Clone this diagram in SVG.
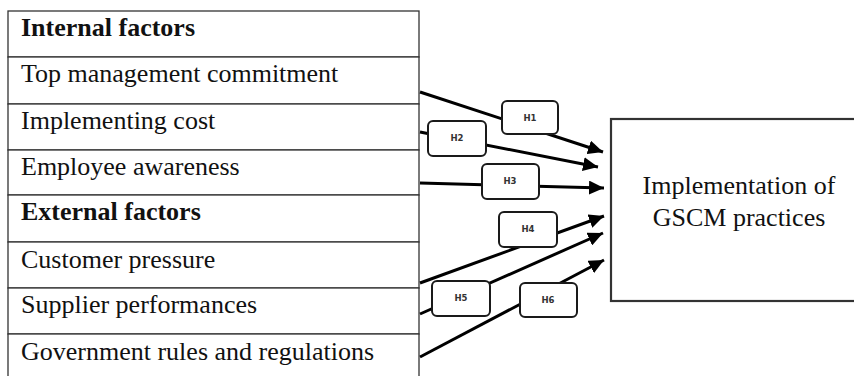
<svg xmlns="http://www.w3.org/2000/svg" width="854" height="376" viewBox="0 0 854 376">
<defs>
<style>
.cell{fill:#fff;stroke:#333;stroke-width:1.3}
.t{font-family:"Liberation Serif","Times New Roman",serif;font-size:26px;fill:#111}
.b{font-weight:bold}
.conn{stroke:#000;stroke-width:3;fill:none;marker-end:url(#ah)}
.hb{fill:#fff;stroke:#1a1a1a;stroke-width:2}
.hl{font-family:"DejaVu Sans",Arial,sans-serif;font-size:8.5px;font-weight:bold;fill:#333;text-anchor:middle}
.big{fill:#fff;stroke:#333;stroke-width:2.2}
</style>
<marker id="ah" markerUnits="userSpaceOnUse" markerWidth="16" markerHeight="14" refX="15" refY="7" orient="auto">
<path d="M0,0 L15,7 L0,14 Z" fill="#000"/>
</marker>
</defs>
<rect width="854" height="376" fill="#fff"/>

<g id="factors">
<g id="internal-header"><rect class="cell" x="8" y="11" width="411" height="46"/><text class="t b" x="21" y="36">Internal factors</text></g>
<g id="top-management"><rect class="cell" x="8" y="57" width="411" height="47"/><text class="t" x="21" y="82">Top management commitment</text></g>
<g id="implementing-cost"><rect class="cell" x="8" y="104" width="411" height="46"/><text class="t" x="21" y="129">Implementing cost</text></g>
<g id="employee-awareness"><rect class="cell" x="8" y="150" width="411" height="45"/><text class="t" x="21" y="175">Employee awareness</text></g>
<g id="external-header"><rect class="cell" x="8" y="195" width="411" height="47"/><text class="t b" x="21" y="220">External factors</text></g>
<g id="customer-pressure"><rect class="cell" x="8" y="242" width="411" height="46"/><text class="t" x="21" y="268">Customer pressure</text></g>
<g id="supplier-performances"><rect class="cell" x="8" y="288" width="411" height="46"/><text class="t" x="21" y="313">Supplier performances</text></g>
<g id="government-rules"><rect class="cell" x="8" y="334" width="411" height="50"/><text class="t" x="21" y="360">Government rules and regulations</text></g>
</g>

<g id="gscm">
<rect class="big" x="611" y="119" width="260" height="182"/>
<text class="t" x="739" y="194" text-anchor="middle">Implementation of</text>
<text class="t" x="739" y="226" text-anchor="middle">GSCM practices</text>
</g>

<g id="connectors">
<line class="conn" x1="420" y1="92" x2="603" y2="152"/>
<line class="conn" x1="420" y1="132" x2="598" y2="167"/>
<line class="conn" x1="420" y1="183" x2="604" y2="188"/>
<line class="conn" x1="420" y1="283" x2="604" y2="216"/>
<line class="conn" x1="420" y1="314" x2="603" y2="233"/>
<line class="conn" x1="420" y1="357" x2="604" y2="260"/>
</g>

<g id="labels">
<g id="h1"><rect class="hb" x="502" y="101" width="56" height="33" rx="5"/><text class="hl" x="530" y="121">H1</text></g>
<g id="h2"><rect class="hb" x="428" y="121" width="58" height="35" rx="5"/><text class="hl" x="457" y="141">H2</text></g>
<g id="h3"><rect class="hb" x="482" y="164" width="57" height="35" rx="5"/><text class="hl" x="510" y="184">H3</text></g>
<g id="h4"><rect class="hb" x="499" y="212" width="58" height="35" rx="5"/><text class="hl" x="528" y="232">H4</text></g>
<g id="h5"><rect class="hb" x="432" y="281" width="58" height="35" rx="5"/><text class="hl" x="461" y="301">H5</text></g>
<g id="h6"><rect class="hb" x="520" y="283" width="57" height="34" rx="5"/><text class="hl" x="548" y="303">H6</text></g>
</g>
</svg>
